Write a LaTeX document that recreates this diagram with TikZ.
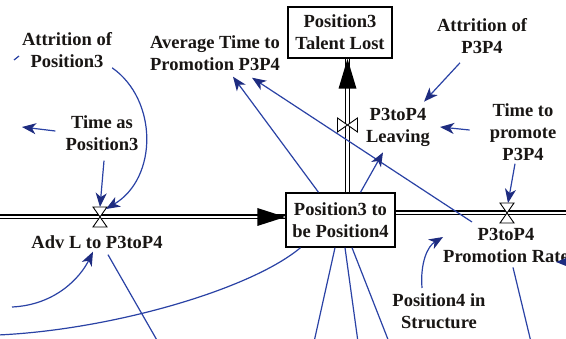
\documentclass[tikz,border=0pt]{standalone}
\usepackage{fontspec}
\setmainfont{Liberation Serif}
\usetikzlibrary{arrows.meta}
\definecolor{infoblue}{RGB}{42,66,165}
\definecolor{tipblue}{RGB}{30,44,128}
\definecolor{ink}{RGB}{25,22,20}
\newcommand\dgfont{\fontsize{18.5}{22}\selectfont\bfseries}
\begin{document}
\begin{tikzpicture}[x=1pt,y=-1pt,
  lbl/.style={font=\dgfont, align=center, inner sep=0pt, text=ink},
  stock/.style={lbl, draw=black, line width=1.4pt, fill=white},
  info/.style={draw=infoblue, line width=1.2pt, -{Stealth[length=14pt,width=11pt,inset=4pt,color=tipblue]}},
  link/.style={draw=infoblue, line width=1.2pt},
  pipe/.style={draw=black, line width=1.2pt, double=white, double distance=2.6pt},
  valveshape/.style={draw=black, fill=white, line width=0.9pt, line join=miter},
]
\useasboundingbox (0,0) rectangle (566,339);
\fill[white] (0,0) rectangle (566,339);
\clip (0,0) rectangle (566,339);

% stocks
\node[stock, minimum width=104pt, minimum height=51pt] (lost) at (340,32.5) {Position3\\Talent Lost};
\node[stock, minimum width=109pt, minimum height=54pt] (stk) at (340.5,220) {Position3 to\\be Position4};

% valve centres
\coordinate (vL) at (100,217);
\coordinate (vR) at (507,213);
\coordinate (vU) at (347.5,125);

% flow pipes
\path (stk.west |- vL) coordinate (inL);
\path (lost.south -| vU) coordinate (inU);
\draw[pipe] (-10,217) -- (inL);
\draw[pipe] (stk.east |- vR) -- (580,213);
\draw[pipe] (stk.north -| vU) -- (inU);
\fill[black] ([shift={(-28,-9)}]inL) -- (inL) -- ([shift={(-28,9)}]inL) -- cycle;
\fill[black] ([shift={(-9,30)}]inU) -- (inU) -- ([shift={(9,30)}]inU) -- cycle;

% valves
\draw[valveshape] ([shift={(-7,-10)}]vL) -- ([shift={(7,-10)}]vL) -- ([shift={(-7,10)}]vL) -- ([shift={(7,10)}]vL) -- cycle;
\draw[valveshape] ([shift={(-7,-10)}]vR) -- ([shift={(7,-10)}]vR) -- ([shift={(-7,10)}]vR) -- ([shift={(7,10)}]vR) -- cycle;
\draw[valveshape] ([shift={(-10,-7)}]vU) -- ([shift={(-10,7)}]vU) -- ([shift={(10,-7)}]vU) -- ([shift={(10,7)}]vU) -- cycle;

% variables
\node[lbl] (attrA) at (67,50) {Attrition of\\Position3};
\node[lbl] (avg) at (215,53) {Average Time to\\Promotion P3P4};
\node[lbl] (attrB) at (482,36) {Attrition of\\P3P4};
\node[lbl] (timeas) at (102,133) {Time as\\Position3};
\node[lbl] (leave) at (398,127) {P3toP4\\Leaving};
\node[lbl] (ttp) at (523,132) {Time to\\promote\\P3P4};
\node[lbl] (advlbl) at (97,242) {Adv L to P3toP4};
\node[lbl] (rate) at (506,245) {P3toP4\\Promotion Rate};
\node[lbl] (pos4) at (439,311) {Position4 in\\Structure};

% information links
\draw[info] (attrA.south east) .. controls (158,100) and (158,178) .. ([shift={(6,-8)}]vL);
\draw[info] ([shift={(2,10)}]timeas.south) -- ([shift={(0,-10)}]vL);
\draw[info] ([shift={(-10,-2)}]timeas.west) -- (22,127);
\draw[link] (14,60) -- (19,56);
\draw[info] ([shift={(-22,0)}]stk.north) -- ([shift={(18,6)}]avg.south);
\draw[info] (472,222) -- ([shift={(37,7)}]avg.south);
\draw[info] ([shift={(20,0)}]stk.north) -- ([shift={(-15,6)}]leave.south);
\draw[info] ([shift={(-22,9)}]attrB.south) -- ([shift={(-6,-6)}]leave.north east);
\draw[info] ([shift={(-20,-2)}]ttp.west) -- ([shift={(10,0)}]leave.east);
\draw[info] ([shift={(-8,3)}]ttp.south) -- ([shift={(1,-10)}]vR);
\draw[info] (422,288) .. controls (420,262) and (428,246) .. ([shift={(0,-8)}]rate.west);
\draw[link] ([shift={(-40,0)}]stk.south) .. controls (250,290) and (110,330) .. (-2,335);
\draw[info] (12,307) .. controls (55,305) and (80,278) .. ([shift={(-4,3)}]advlbl.south);
\draw[link] ([shift={(11,6)}]advlbl.south) -- (158,342);
\draw[link] ([shift={(-5.5,0)}]stk.south) -- (314,342);
\draw[link] ([shift={(4.5,0)}]stk.south) -- (358,342);
\draw[link] ([shift={(11.5,0)}]stk.south) -- (389,342);
\draw[link] ([shift={(7,5)}]rate.south) -- (531,342);
\draw[info] (575,262) -- (556,262);
\end{tikzpicture}
\end{document}
